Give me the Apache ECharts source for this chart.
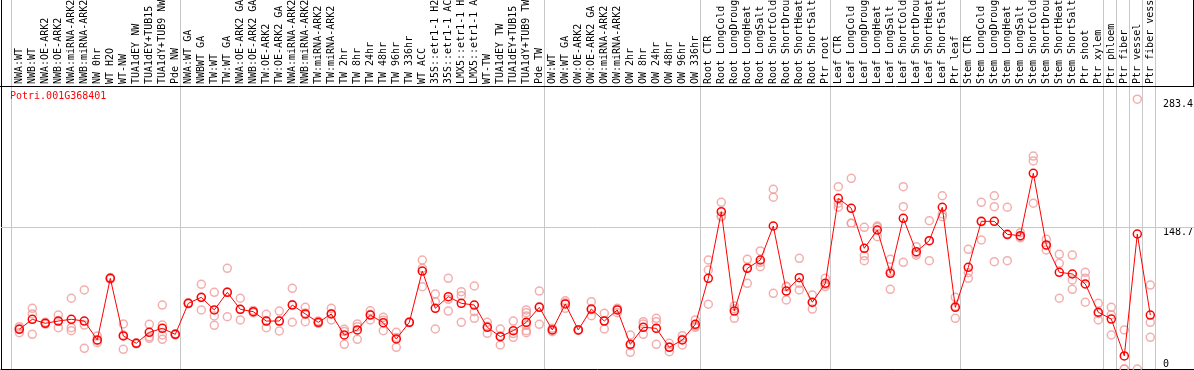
<!DOCTYPE html>
<html>
<head>
<meta charset="utf-8">
<script src="https://cdn.jsdelivr.net/npm/echarts@6/dist/echarts.min.js"></script>
<style>
html,body{margin:0;padding:0;background:#fff;}
#c{width:1194px;height:370px;}
</style>
</head>
<body>
<div id="c"></div>
<script>
const geneName = "Potri.001G368401";

const categories = [
  "NWA:WT","NWB:WT","NWA:OE-ARK2","NWB:OE-ARK2","NWA:miRNA-ARK2","NWB:miRNA-ARK2","NW 0hr","WT H2O","WT-NW","TUA1dEY NW","TUA1dEY+TUB15 NW","TUA1dY+TUB9 NW","Pde NW",
  "NWA:WT GA","NWBWT GA","TW:WT","TW:WT GA","NWA:OE-ARK2 GA","NWB:OE-ARK2 GA","TW:OE-ARK2","TW:OE-ARK2 GA","NWA:miRNA-ARK2 GA","NWB:miRNA-ARK2 GA","TW:miRNA-ARK2","TW:miRNA-ARK2 GA",
  "TW 2hr","TW 8hr","TW 24hr","TW 48hr","TW 96hr","TW 336hr","WT ACC","35S::etr1-1 H2O","35S::etr1-1 ACC","LMX5::etr1-1 H2O","LMX5::etr1-1 ACC","WT-TW","TUA1dEY TW","TUA1dEY+TUB15 TW","TUA1dY+TUB9 TW","Pde TW",
  "OW:WT","OW:WT GA","OW:OE-ARK2","OW:OE-ARK2 GA","OW:miRNA-ARK2","OW:miRNA-ARK2 GA","OW 2hr","OW 8hr","OW 24hr","OW 48hr","OW 96hr","OW 336hr",
  "Root CTR","Root LongCold","Root LongDrought","Root LongHeat","Root LongSalt","Root ShortCold","Root ShortDrought","Root ShortHeat","Root ShortSalt","Ptr root",
  "Leaf CTR","Leaf LongCold","Leaf LongDrought","Leaf LongHeat","Leaf LongSalt","Leaf ShortCold","Leaf ShortDrought","Leaf ShortHeat","Leaf ShortSalt","Ptr leaf",
  "Stem CTR","Stem LongCold","Stem LongDrought","Stem LongHeat","Stem LongSalt","Stem ShortCold","Stem ShortDrought","Stem ShortHeat","Stem ShortSalt","Ptr shoot","Ptr xylem",
  "Ptr phloem","Ptr fiber","Ptr vessel","Ptr fiber vessel"
];

// index of the first category of each group (last = end)
const groupStarts = [0, 13, 41, 53, 63, 73, 84, 85, 86, 87, 88];

const means = [
  41.7,52.2,48.0,50.4,52.2,50.4,30.5,95.2,34.7,27.0,38.5,42.7,36.4,
  69.0,75.3,62.0,80.5,62.7,60.2,50.4,50.4,67.2,57.8,49.0,57.8,35.7,41.0,56.7,48.6,31.5,49.0,102.9,63.7,76.0,69.0,67.2,43.8,34.0,40.3,49.0,64.8,
  41.0,68.3,41.0,63.0,50.4,62.0,25.9,43.8,42.7,22.8,30.5,46.9,
  95.2,165.2,60.9,105.7,114.5,150.2,81.9,95.9,70.1,90.0,
  179.3,168.8,126.8,146.0,100.5,158.3,123.2,134.8,169.9,64.8,
  106.8,155.1,155.1,141.5,140.0,205.6,130.3,101.6,99.8,89.3,59.6,
  52.5,13.7,141.8,56.7
];

const replicates = [
  [44.4,38.1,42.6],[63.7,57.8,36.4],[47,49,48.5],[56.7,43.4,50.4],[74.3,43.4,40.2],[83.0,46.2,21.7],[34.7,29.7,27.6],[95.2,96,94.5],[47.3,35.7,20.7],[27,27.5,26.5],[46.9,33.9,32.2],[67.2,46.2,35.7,31.2],[36.4,37,35.8],
  [69,69.5,68.5],[89,74.9,62],[80.5,55.7,45.9],[105.7,80.9,54.9],[74.3,51.5,62.4],[61.5,59,60.2],[57.5,43.4,50.3],[60.9,39.9,50.4],[84.8,49.1,67.7],[64.8,49.7,58.9],[50.5,48,48.5],[63.7,51.5,58.2],
  [41.7,25.9,39.5],[47.3,31.2,44.5],[61.2,51.5,57.4],[54.3,40.2,51.3],[38.5,22.8,33.2],[49,49.5,48.5],[114.5,105.7,86.4],[78.8,70.7,42.0],[95.2,73.2,60.9],[81.2,77.0,49.0],[87.2,60.2,53.2],[49.0,37.5,44.9],[42.0,25.2,34.8],[50.4,33.3,37.2],[62.0,59.2,55.7,46.2,40.2,38.1],[81.9,46.9,65.6],
  [42.7,39.2,41.1],[71.7,63.7,69.5],[41,41.5,40.5],[70.7,56.0,62.3],[58.5,42.0,50.7],[63.7,59.2,63.1],[35.7,17.5,24.5],[49.7,47.3,36.4],[53.2,49.7,25.9],[27.0,18.2,23.2],[35.0,25.2,31.3],[51.5,43.8,45.4],
  [114.5,104.0,68.0],[175.1,160.0,160.5],[66.2,53.2,63.3],[115.2,106.4,90.0],[124.0,107.5,112.0],[188.8,180.4,79.5],[86.4,72.5,86.8],[116.3,90.0,83.0],[77.7,63.0,69.6],[95.2,86.4,88.4],
  [191.5,174.1,169.9],[200.3,153.0,153.1],[148.8,119.0,113.8],[150.2,139.0,148.8],[115.2,83.7,102.6],[191.5,170.5,112.1],[128.5,121.5,119.6],[155.8,113.8,134.8],[182.0,162.8,160.0],[75.3,53.2,65.9],
  [125.7,101.2,95.2],[175.1,135.5,154.7],[182.0,170.5,112.7],[169.9,113.8,140.8],[143.2,139.0,137.8],[223.7,218.5,174.1],[136.2,125.0,129.7],[120.5,111.0,74.3],[119.7,93.5,83.7],[101.6,95.2,70.1],[69.0,51.5,58.3],
  [64.8,35.7,57.0],[41.0,0,0],[283.4,0],[88.2,49.0,33.3]
];

const yTicksTop = [148.7, 283.4];
const yTicksBottom = [0];
const refLineValue = 148.7;

// ---- layout ----
const FONT = "DejaVu Sans Mono";
const step = 13;                 // px per category
const plotLeft = 1, plotWidth = 1193;
const firstCenter = 19.3;
const xMin = -(firstCenter - plotLeft) / step;
const xMax = xMin + plotWidth / step;
const yMaxVal = 387.6;           // value at top of canvas
const sepOffset = 8 / step;

const meanData = means.map((v, i) => [i, v]);
const repData = [];
replicates.forEach((arr, i) => arr.forEach(v => repData.push([i, v])));

const chart = echarts.init(document.getElementById('c'), null, {renderer: 'canvas'});
chart.setOption({
  animation: false,
  backgroundColor: '#fff',
  title: {
    text: geneName, left: 10, top: 91, padding: 0,
    textStyle: {color: '#ff0000', fontFamily: FONT, fontSize: 10, fontWeight: 'normal'}
  },
  grid: [
    {left: plotLeft, right: 0, top: 0, bottom: 1, outerBoundsMode: 'none', containLabel: false},
    {left: firstCenter - step / 2, width: step * categories.length, top: 0, height: 86, outerBoundsMode: 'none', containLabel: false}
  ],
  xAxis: [
    {type: 'value', gridIndex: 0, min: xMin, max: xMax,
     axisLine: {show: true, onZero: false, lineStyle: {color: '#000', width: 1}},
     axisTick: {show: false}, axisLabel: {show: false}, splitLine: {show: false}},
    {type: 'category', gridIndex: 1, data: categories, position: 'bottom', boundaryGap: true,
     axisLine: {show: false}, axisTick: {show: false}, splitLine: {show: false},
     axisLabel: {interval: 0, rotate: 90, inside: true, margin: 2, color: '#000',
                 fontFamily: FONT, fontSize: 10, hideOverlap: false}}
  ],
  yAxis: [
    {type: 'value', gridIndex: 0, position: 'left', min: 0, max: yMaxVal,
     axisLine: {show: true, onZero: false, lineStyle: {color: '#000', width: 1}},
     axisTick: {show: false}, axisLabel: {show: false}, splitLine: {show: false}},
    {type: 'value', gridIndex: 0, position: 'right', min: 0, max: yMaxVal,
     axisLine: {show: false, onZero: false}, axisTick: {show: false}, splitLine: {show: false},
     axisLabel: {show: true, inside: true, align: 'left', verticalAlign: 'top', margin: 31,
                 customValues: yTicksTop, color: '#000', fontFamily: FONT, fontSize: 10,
                 formatter: v => String(v)}},
    {type: 'value', gridIndex: 0, position: 'right', min: 0, max: yMaxVal,
     axisLine: {show: false, onZero: false}, axisTick: {show: false}, splitLine: {show: false},
     axisLabel: {show: true, inside: true, align: 'left', verticalAlign: 'bottom', margin: 31,
                 customValues: yTicksBottom, color: '#000', fontFamily: FONT, fontSize: 10,
                 formatter: v => String(v)}},
    {type: 'value', gridIndex: 1, show: false}
  ],
  graphic: [
    {type: 'line', shape: {x1: 0, y1: 86.5, x2: 1194, y2: 86.5}, style: {stroke: '#000', lineWidth: 1}, z: 100},
    {type: 'line', shape: {x1: 1193.5, y1: 0, x2: 1193.5, y2: 86}, style: {stroke: '#000', lineWidth: 1}, z: 100}
  ],
  series: [
    {
      type: 'line', xAxisIndex: 0, yAxisIndex: 0, data: [], z: 1, silent: true,
      markLine: {
        silent: true, symbol: ['none', 'none'], label: {show: false},
        lineStyle: {color: '#c8c8c8', type: 'solid', width: 1},
        data: groupStarts.map(b => ({xAxis: b - sepOffset}))
          .concat([{yAxis: refLineValue}])
      }
    },
    {
      type: 'scatter', xAxisIndex: 0, yAxisIndex: 0, data: repData, z: 3,
      symbol: 'circle', symbolSize: 8,
      itemStyle: {color: 'rgba(0,0,0,0)', borderColor: '#f09a9a', borderWidth: 1.5}
    },
    {
      type: 'line', xAxisIndex: 0, yAxisIndex: 0, data: meanData, z: 5,
      symbol: 'circle', symbolSize: 8, showAllSymbol: true,
      lineStyle: {color: '#ff0000', width: 1},
      itemStyle: {color: 'rgba(0,0,0,0)', borderColor: '#ff0000', borderWidth: 1.5}
    }
  ]
});
</script>
</body>
</html>
